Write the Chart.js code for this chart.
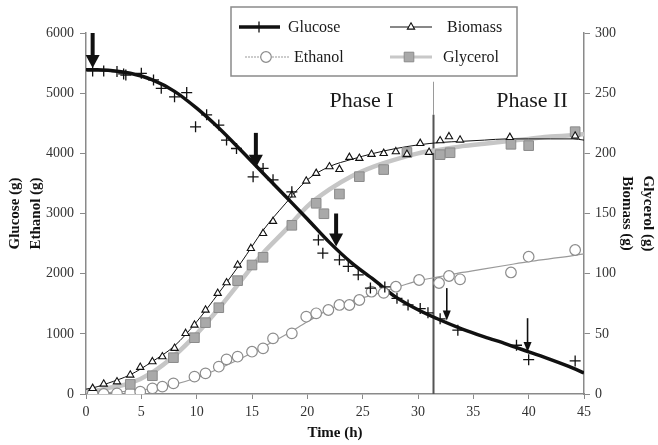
<!DOCTYPE html>
<html>
<head>
<meta charset="utf-8">
<script src="https://cdn.jsdelivr.net/npm/chart.js@4/dist/chart.umd.min.js"></script>
<style>
  html, body { margin: 0; padding: 0; background: #fff; }
  #chart { display: block; }
</style>
</head>
<body>
<canvas id="chart" width="658" height="445"></canvas>
<script>
// fitted curves, sampled along time (h)
const fitTime = [0, 1, 2, 4, 6, 8, 10, 12, 14, 16, 18, 20, 22, 24, 26, 28, 30, 32, 34, 36, 38, 40, 42, 44, 45];
const glucoseFit = [5390, 5390, 5380, 5330, 5220, 5030, 4750, 4420, 4050, 3670, 3290, 2910, 2520, 2180, 1900, 1610, 1400, 1230, 1080, 950, 830, 700, 570, 430, 350];
const ethanolFit = [0, 5, 20, 50, 90, 160, 270, 420, 590, 780, 980, 1200, 1410, 1550, 1650, 1770, 1880, 1950, 2020, 2080, 2140, 2200, 2250, 2300, 2330];
const biomassFit = [4, 6, 9, 16, 27, 40, 60, 84, 109, 136, 158, 178, 189, 195, 200, 204, 207, 209, 210, 211, 212, 212, 212, 212, 211];
const glycerolFit = [2, 3, 5, 9, 18, 32, 50, 71, 94, 117, 136, 156, 170, 181, 189, 195, 200, 203, 206, 208, 210, 212, 214, 215, 216];

// measured points
const glucoseT = [0.6, 1.6, 2.8, 3.4, 3.6, 5.0, 6.1, 6.8, 8.0, 9.1, 9.9, 10.9, 12.0, 12.7, 13.6, 15.1, 16.0, 16.9, 18.6, 21.0, 21.4, 22.9, 23.7, 24.6, 25.7, 27.0, 28.1, 29.1, 30.2, 30.9, 32.0, 33.6, 38.9, 40.0, 44.2];
const glucoseV = [5370, 5370, 5360, 5320, 5300, 5330, 5220, 5080, 4940, 5010, 4440, 4640, 4470, 4220, 4080, 3610, 3750, 3560, 3360, 2560, 2340, 2230, 2120, 1980, 1760, 1780, 1590, 1480, 1420, 1350, 1250, 1060, 810, 570, 550];
const ethanolT = [0.6, 1.6, 2.8, 4.0, 4.9, 6.0, 6.9, 7.9, 9.8, 10.8, 12.0, 12.7, 13.7, 15.0, 16.0, 16.9, 18.6, 19.9, 20.8, 21.9, 22.9, 23.8, 24.7, 25.8, 26.9, 28.0, 30.1, 31.9, 32.8, 33.8, 38.4, 40.0, 44.2];
const ethanolV = [5, 0, 10, 22, 39, 94, 122, 177, 288, 343, 454, 576, 620, 703, 759, 925, 1008, 1285, 1341, 1396, 1480, 1479, 1562, 1700, 1680, 1783, 1895, 1845, 1961, 1906, 2020, 2282, 2393];
const biomassT = [0.6, 1.6, 2.8, 4.0, 4.9, 6.0, 6.9, 8.0, 9.0, 9.8, 10.8, 11.9, 12.7, 13.7, 14.9, 16.0, 16.9, 18.6, 19.9, 20.8, 22.0, 22.9, 23.8, 24.7, 25.8, 26.9, 28.0, 29.0, 30.2, 31.0, 32.0, 32.8, 33.8, 38.3, 44.2];
const biomassV = [4.7, 8.3, 10.2, 15.8, 22.2, 26.9, 31, 38, 50.4, 57.3, 69.8, 83.7, 92.5, 107.2, 121, 133.5, 143.5, 165.4, 177, 183.4, 188.9, 186.7, 196.7, 195.9, 199.2, 200, 201.4, 199.2, 208.3, 200.9, 210.5, 213.9, 211.1, 213.3, 214.4];
const glycerolT = [4.0, 6.0, 7.9, 9.8, 10.8, 12.0, 13.7, 15.0, 16.0, 18.6, 20.8, 21.5, 22.9, 24.7, 26.9, 29.0, 32.0, 32.9, 38.4, 40.0, 44.2];
const glycerolV = [8, 15.2, 30.2, 46.8, 59.3, 71.7, 94.2, 107.2, 113.6, 140.2, 158.5, 149.8, 166.2, 180.6, 186.5, 200.7, 198.9, 200.5, 207.5, 206.4, 218];

// arrows (time, from, to on the glucose axis) and phase split
const arrowTime = [0.6, 15.35, 22.6, 32.6, 39.9];
const arrowFrom = [6000, 4340, 3000, 1760, 1260];
const arrowTo = [5420, 3760, 2450, 1220, 700];
const arrowHeavy = [true, true, true, false, false];
const phaseSplit = 31.35;
const phaseNames = ['Phase I', 'Phase II'];

const SERIF = '"Liberation Serif", "Times New Roman", serif';

function pts(t, v) {
    return t.map((x, i) => ({x: x, y: v[i]}));
}

const markStyle = {
    glucose: {pointStyle: 'cross', radius: 5.5, borderColor: '#111', backgroundColor: '#111', borderWidth: 1.3},
    ethanol: {pointStyle: 'circle', radius: 5.3, borderColor: '#8c8c8c', backgroundColor: '#fff', borderWidth: 1.2},
    biomass: {pointStyle: 'triangle', radius: 4.2, borderColor: '#111', backgroundColor: '#fff', borderWidth: 1.1},
    glycerol: {pointStyle: 'rect', radius: 6.8, borderColor: '#8a8a8a', backgroundColor: '#a9a9a9', borderWidth: 1}
};

function markers(name, t, v, axis, order) {
    const s = markStyle[name];
    return {
        label: name + ' data', data: pts(t, v), yAxisID: axis, showLine: false, order: order,
        pointStyle: s.pointStyle, pointRadius: s.radius, pointBorderColor: s.borderColor,
        pointBackgroundColor: s.backgroundColor, pointBorderWidth: s.borderWidth,
        borderColor: s.borderColor, backgroundColor: s.backgroundColor
    };
}

function fit(label, v, axis, color, width, order) {
    return {
        label: label, data: pts(fitTime, v), yAxisID: axis, order: order,
        borderColor: color, borderWidth: width, pointRadius: 0,
        cubicInterpolationMode: 'monotone', fill: false
    };
}

// phase line, phase labels and arrows
const overlayPlugin = {
    id: 'overlay',
    beforeDatasetsDraw(chart) {
        const {ctx, scales: {x, y}} = chart;
        const px = Math.round(x.getPixelForValue(phaseSplit)) + 0.5;
        ctx.save();
        ctx.strokeStyle = '#9a9a9a';
        ctx.lineWidth = 1;
        ctx.beginPath();
        ctx.moveTo(px, y.getPixelForValue(5190));
        ctx.lineTo(px, y.getPixelForValue(4640));
        ctx.stroke();
        ctx.strokeStyle = '#555';
        ctx.lineWidth = 2;
        ctx.beginPath();
        ctx.moveTo(px, y.getPixelForValue(4640));
        ctx.lineTo(px, y.getPixelForValue(0));
        ctx.stroke();

        ctx.fillStyle = '#1a1a1a';
        ctx.font = '22px ' + SERIF;
        ctx.textAlign = 'center';
        ctx.textBaseline = 'alphabetic';
        ctx.fillText(phaseNames[0], x.getPixelForValue(24.9), y.getPixelForValue(4770));
        ctx.fillText(phaseNames[1], x.getPixelForValue(40.3), y.getPixelForValue(4770));
        ctx.restore();
    },
    afterDatasetsDraw(chart) {
        const {ctx, scales: {x, y}} = chart;
        ctx.save();
        ctx.fillStyle = '#111';
        ctx.strokeStyle = '#111';
        arrowTime.forEach((t, i) => {
            const ax = x.getPixelForValue(t);
            const y0 = y.getPixelForValue(arrowFrom[i]);
            const y1 = y.getPixelForValue(arrowTo[i]);
            const heavy = arrowHeavy[i];
            const headL = heavy ? 13 : 10;
            const headW = heavy ? 7 : 4;
            ctx.lineWidth = heavy ? 4 : 1.6;
            ctx.beginPath();
            ctx.moveTo(ax, y0);
            ctx.lineTo(ax, y1 - headL + 2);
            ctx.stroke();
            ctx.beginPath();
            ctx.moveTo(ax - headW, y1 - headL);
            ctx.lineTo(ax + headW, y1 - headL);
            ctx.lineTo(ax, y1);
            ctx.closePath();
            ctx.fill();
        });
        ctx.restore();
    },
    afterDraw(chart) {
        // legend box
        const ctx = chart.ctx;
        ctx.save();
        ctx.fillStyle = '#fff';
        ctx.fillRect(231, 7, 286, 69);
        ctx.strokeStyle = '#8a8a8a';
        ctx.lineWidth = 1.5;
        ctx.strokeRect(231, 7, 286, 69);

        const rows = [
            {name: 'Glucose', x0: 239, x1: 280, mx: 259, tx: 288, y: 27, color: '#111', w: 3.5, dash: []},
            {name: 'Ethanol', x0: 245, x1: 289, mx: 266, tx: 294, y: 57, color: '#9a9a9a', w: 1.2, dash: [2, 1]},
            {name: 'Biomass', x0: 390, x1: 432, mx: 411, tx: 447, y: 27, color: '#111', w: 1, dash: []},
            {name: 'Glycerol', x0: 390, x1: 432, mx: 409, tx: 443, y: 57, color: '#c8c8c8', w: 3, dash: []}
        ];
        rows.forEach(r => {
            ctx.strokeStyle = r.color;
            ctx.lineWidth = r.w;
            ctx.setLineDash(r.dash);
            ctx.beginPath();
            ctx.moveTo(r.x0, r.y);
            ctx.lineTo(r.x1, r.y);
            ctx.stroke();
            ctx.setLineDash([]);
            const s = markStyle[r.name.toLowerCase()];
            ctx.strokeStyle = s.borderColor;
            ctx.fillStyle = s.backgroundColor;
            ctx.lineWidth = s.borderWidth;
            Chart.helpers.drawPoint(ctx, {pointStyle: s.pointStyle, radius: s.radius, borderWidth: s.borderWidth}, r.mx, r.y);
            ctx.fillStyle = '#1a1a1a';
            ctx.font = '16px ' + SERIF;
            ctx.textAlign = 'left';
            ctx.textBaseline = 'middle';
            ctx.fillText(r.name, r.tx, r.y + 1);
        });
        ctx.restore();
    }
};

const tickFont = {family: SERIF, size: 14};
const titleFont = {family: SERIF, size: 15, weight: 'bold', lineHeight: 1.4};
const plain = v => String(v);

new Chart(document.getElementById('chart'), {
    type: 'line',
    data: {
        datasets: [
            markers('glucose', glucoseT, glucoseV, 'y', 1),
            markers('biomass', biomassT, biomassV, 'y2', 2),
            markers('glycerol', glycerolT, glycerolV, 'y2', 3),
            markers('ethanol', ethanolT, ethanolV, 'y', 4),
            fit('Glucose', glucoseFit, 'y', '#111', 3.5, 5),
            fit('Biomass', biomassFit, 'y2', '#111', 1, 6),
            fit('Ethanol', ethanolFit, 'y', '#9a9a9a', 1.2, 7),
            fit('Glycerol', glycerolFit, 'y2', '#c6c6c6', 4.5, 8)
        ]
    },
    options: {
        responsive: false,
        animation: false,
        layout: {padding: {top: 33, left: 0, right: 0, bottom: 0}},
        plugins: {legend: {display: false}, tooltip: {enabled: false}},
        scales: {
            x: {
                type: 'linear', min: 0, max: 45,
                afterFit(s) { s.height = 51; },
                ticks: {stepSize: 5, font: tickFont, color: '#333', padding: 5, maxRotation: 0, callback: plain},
                grid: {drawOnChartArea: false, tickLength: 5, color: '#8a8a8a'},
                border: {color: '#8a8a8a', width: 1.5},
                title: {display: true, text: 'Time (h)', font: titleFont, color: '#111', padding: {bottom: 1.5}}
            },
            y: {
                position: 'left', min: 0, max: 6000,
                afterFit(s) { s.width = 86; },
                ticks: {stepSize: 1000, font: tickFont, color: '#333', padding: 6, callback: plain},
                grid: {drawOnChartArea: false, tickLength: 6, color: '#8a8a8a'},
                border: {color: '#8a8a8a', width: 1.5},
                title: {display: true, text: ['Glucose (g)', 'Ethanol (g)'], font: titleFont, color: '#111', padding: {top: 4.5}}
            },
            y2: {
                position: 'right', min: 0, max: 300,
                afterFit(s) { s.width = 74; },
                ticks: {stepSize: 50, font: tickFont, color: '#333', padding: 5, callback: plain},
                grid: {drawOnChartArea: false, tickLength: 6, color: '#8a8a8a'},
                border: {color: '#8a8a8a', width: 1.5},
                title: {display: true, text: ['Glycerol (g)', 'Biomass (g)'], font: titleFont, color: '#111', padding: {top: 0}}
            }
        }
    },
    plugins: [overlayPlugin]
});
</script>
</body>
</html>
